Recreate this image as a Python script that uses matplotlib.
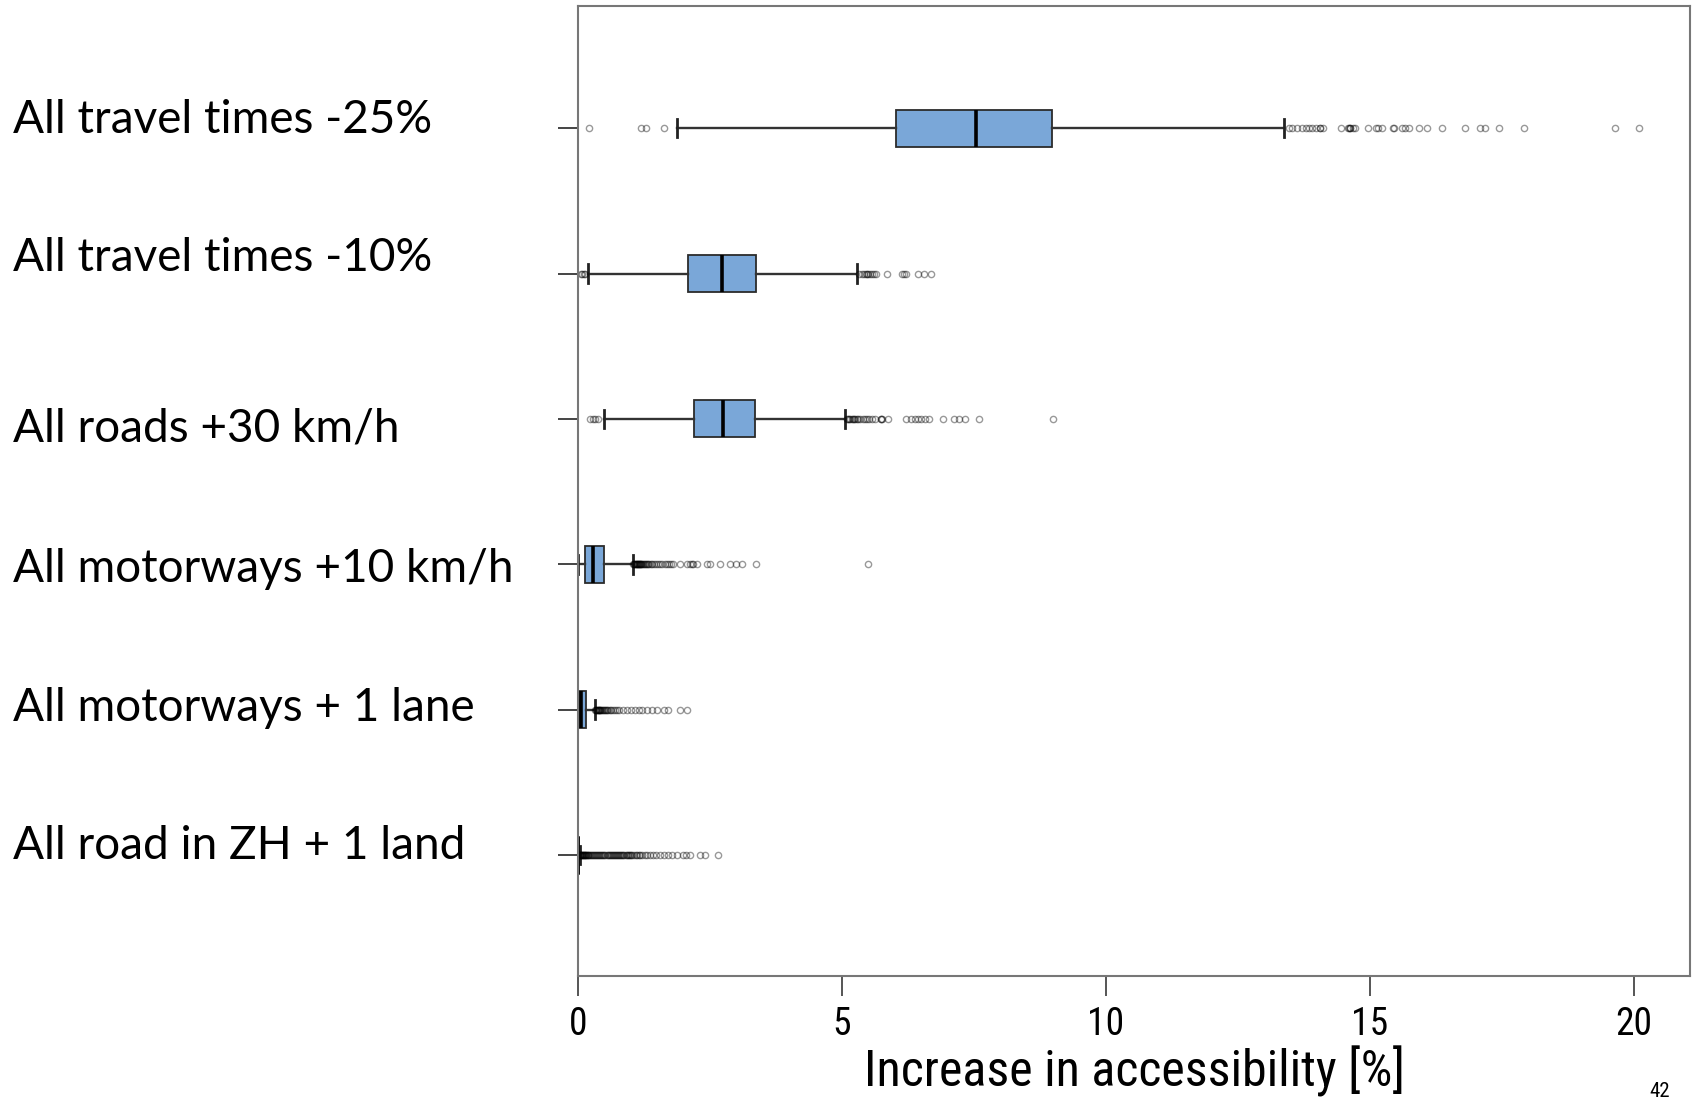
import matplotlib.pyplot as plt
from matplotlib import font_manager

# scenarios, top to bottom
scenarios = ["All travel times -25%", "All travel times -10%", "All roads +30 km/h",
             "All motorways +10 km/h", "All motorways + 1 lane", "All road in ZH + 1 land"]

# box statistics (increase in accessibility, %)
q1 = [6.02, 2.09, 2.20, 0.13, 0.02, 0.00]
med = [7.53, 2.73, 2.75, 0.29, 0.06, 0.005]
q3 = [8.98, 3.37, 3.35, 0.50, 0.15, 0.02]
whislo = [1.87, 0.18, 0.49, 0.00, 0.00, 0.00]
whishi = [13.37, 5.28, 5.06, 1.04, 0.32, 0.03]

# outliers, as far as they can be told apart (repeats where the points pile up)
fliers_25 = [0.21, 1.20, 1.29, 1.63, 13.46, 13.53, 13.61, 13.71, 13.78, 13.84, 13.91, 13.98,
             14.05, 14.05, 14.11, 14.45, 14.59, 14.60, 14.62, 14.63, 14.67, 14.72, 14.96, 15.11,
             15.16, 15.23, 15.43, 15.45, 15.60, 15.67, 15.73, 15.93, 16.07, 16.36, 16.79, 17.08,
             17.17, 17.45, 17.91, 19.64, 20.09]
fliers_10 = [0.05, 0.08, 0.11, 0.13, 5.33, 5.38, 5.42, 5.46, 5.48, 5.50, 5.53, 5.56, 5.60,
             5.64, 5.85, 6.13, 6.17, 6.22, 6.44, 6.55, 6.68]
fliers_roads = [0.23, 0.28, 0.33, 0.37, 5.10, 5.12, 5.14, 5.16, 5.18, 5.20, 5.22, 5.25, 5.28,
                5.31, 5.35, 5.39, 5.43, 5.47, 5.52, 5.57, 5.62, 5.74, 5.74, 5.76, 5.87, 6.21,
                6.30, 6.38, 6.44, 6.50, 6.57, 6.65, 6.92, 7.13, 7.22, 7.33, 7.60, 8.99]
fliers_mw10 = [1.05, 1.06, 1.07, 1.08, 1.09, 1.10, 1.11, 1.12, 1.13, 1.14, 1.15, 1.16, 1.17,
               1.18, 1.19, 1.20, 1.21, 1.23, 1.25, 1.27, 1.29, 1.31, 1.33, 1.35, 1.38, 1.41,
               1.44, 1.48, 1.52, 1.56, 1.60, 1.64, 1.68, 1.72, 1.76, 1.80, 1.93, 2.06, 2.12,
               2.15, 2.18, 2.25, 2.44, 2.50, 2.69, 2.88, 3.00, 3.10, 3.38, 5.50]
fliers_lane = [0.33, 0.34, 0.35, 0.36, 0.37, 0.38, 0.39, 0.40, 0.41, 0.42, 0.43, 0.45, 0.47,
               0.49, 0.51, 0.53, 0.55, 0.57, 0.60, 0.63, 0.66, 0.70, 0.73, 0.78, 0.85, 0.92,
               1.00, 1.08, 1.15, 1.22, 1.30, 1.40, 1.50, 1.62, 1.70, 1.93, 2.06]
fliers_zh = [0.02, 0.03, 0.04, 0.05, 0.06, 0.07, 0.08, 0.09, 0.10, 0.11, 0.12, 0.13, 0.14,
             0.15, 0.16, 0.17, 0.18, 0.19, 0.20, 0.22, 0.24, 0.26, 0.28, 0.30, 0.32, 0.34,
             0.36, 0.38, 0.40, 0.42, 0.44, 0.46, 0.48, 0.50, 0.52, 0.54, 0.56, 0.58, 0.60,
             0.62, 0.64, 0.66, 0.68, 0.70, 0.72, 0.74, 0.76, 0.78, 0.80, 0.82, 0.84, 0.86,
             0.88, 0.90, 0.92, 0.94, 0.96, 0.98, 1.00, 1.03, 1.06, 1.09, 1.12, 1.15, 1.18,
             1.22, 1.26, 1.30, 1.36, 1.42, 1.48, 1.55, 1.62, 1.70, 1.78, 1.87, 1.99, 2.05,
             2.12, 2.31, 2.40, 2.65]
fliers = [fliers_25, fliers_10, fliers_roads, fliers_mw10, fliers_lane, fliers_zh]

xticks = [0, 5, 10, 15, 20]
page_number = "42"

# slide layout (pixels of the 1698x1102 page)
W, H = 1698, 1102
label_baselines = [133, 271, 441, 582, 721, 859]
positions = [6, 5, 4, 3, 2, 1]

# narrow face for the axis texts, if there is one
names = {f.name for f in font_manager.fontManager.ttflist}
narrow = font_manager.FontProperties(family='DejaVu Sans', stretch='condensed')
for cand in ['Liberation Sans Narrow', 'Roboto Condensed', 'Open Sans Condensed']:
    if cand in names:
        narrow = font_manager.FontProperties(family=cand)
        break

fig = plt.figure(figsize=(W / 100, H / 100), dpi=100)
ax = fig.add_axes([578 / W, 1 - 976 / H, (1690 - 578) / W, (976 - 6) / H])

stats = []
for i in range(len(scenarios)):
    stats.append(dict(label=scenarios[i], q1=q1[i], med=med[i], q3=q3[i],
                      whislo=whislo[i], whishi=whishi[i], fliers=fliers[i]))

ax.bxp(stats, positions=positions, widths=0.255, orientation='horizontal',
       patch_artist=True,
       boxprops=dict(facecolor='#7aa7d8', edgecolor='#2b2b2b', linewidth=1.3),
       medianprops=dict(color='black', linewidth=2.6),
       whiskerprops=dict(color='#333333', linewidth=1.7),
       capprops=dict(color='#222222', linewidth=2.0),
       flierprops=dict(marker='o', markerfacecolor='none', markeredgecolor='black',
                       alpha=0.4, markersize=4.5, markeredgewidth=1.0))

ax.set_xlim(0, 21.06)
ax.set_ylim(0.168, 6.84)

ax.set_yticks(positions)
ax.set_yticklabels([''] * len(positions))
ax.tick_params(axis='y', length=14.4, width=1.4, color='#444444')

ax.set_xticks(xticks)
ax.set_xticklabels([str(t) for t in xticks])
for t in ax.get_xticklabels():
    t.set_fontproperties(narrow)
    t.set_fontsize(27)
ax.tick_params(axis='x', length=14.4, width=1.4, color='#555555', pad=7)

for s in ax.spines.values():
    s.set_color('#777777')
    s.set_linewidth(1.5)

xl = ax.set_xlabel("Increase in accessibility [%]", labelpad=2)
xl.set_fontproperties(narrow)
xl.set_fontsize(36)

for name, base in zip(scenarios, label_baselines):
    fig.text(13 / W, 1 - base / H, name, family=['Lato', 'DejaVu Sans'], fontsize=33,
             va='baseline', ha='left')

pn = fig.text(1660 / W, 1 - 1097 / H, page_number, ha='center', va='baseline')
pn.set_fontproperties(narrow)
pn.set_fontsize(15)

fig.savefig('out.png', dpi=100)
